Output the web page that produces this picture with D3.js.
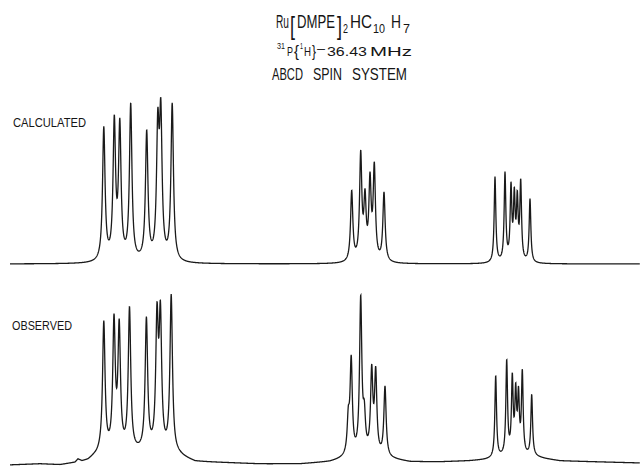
<!DOCTYPE html>
<html>
<head>
<meta charset="utf-8">
<script src="https://cdn.jsdelivr.net/npm/d3@7"></script>
<style>
  body { margin: 0; background: #fff; }
  text { fill: #151515; font-family: "Liberation Sans", Arial, sans-serif; }
</style>
</head>
<body>
<div id="chart"></div>
<script>
var width = 640;
var height = 466;

// line positions (channel units), peak heights (% of tallest), half widths
var calcPos = [103.8, 114.3, 119.8, 130.7, 146.7, 157.8, 160.8, 172.2,
	351.7, 360.7, 365, 370, 374.3, 384,
	495, 505, 511, 514.3, 517.3, 520.7, 530];
var calcHeight = [82, 89, 87, 96, 80, 93, 99, 96,
	44, 68, 45, 55, 61, 43,
	52, 55, 49, 46, 44, 51, 39];
var calcWidth = [1.5, 1.5, 1.5, 1.5, 1.5, 1.5, 1.5, 1.5,
	1.35, 1.35, 1.35, 1.35, 1.35, 1.35,
	1.0, 1.0, 1.0, 1.0, 1.0, 1.0, 1.0];

var obsPos = [103.8, 114, 119.2, 129.5, 146.4, 157, 160.4, 171.2,
	348.3, 351.2, 360.7, 364.3, 371.7, 375.7, 385,
	495.7, 506.7, 512.3, 515.7, 518.5, 522.3, 531.7];
var obsHeight = [79, 83, 80, 87, 81, 90, 91, 95,
	31, 61, 96, 34, 55, 54, 43,
	49, 58, 50, 44, 42, 52, 37];
var obsWidth = [1.5, 1.5, 1.5, 1.5, 1.5, 1.5, 1.5, 1.5,
	1.35, 1.35, 1.35, 1.35, 1.35, 1.35, 1.35,
	1.0, 1.0, 1.0, 1.0, 1.0, 1.0, 1.0];

// observed baseline drift (channel, % offset)
var obsBaseX = [10, 40, 60, 75, 78, 82, 88, 93, 100, 140, 178, 186, 195, 230, 260,
	300, 330, 345, 370, 395, 410, 440, 470, 485, 510, 535, 545, 560, 600, 640];
var obsBaseY = [-0.6, 0, -0.6, 0.6, 2.4, 1.2, 1.8, 3.5, 5.3, 5.9, 4.7, 3, 1.2, 0.6, 0,
	0, 1.2, 3, 4, 2.4, 1.2, 1.2, 1.8, 2.4, 4, 4, 3, 1.8, 1.2, 0.6];

var svg = d3
	.select("#chart")
	.append("svg")
	.attr("width", width)
	.attr("height", height);

var x = d3.scaleLinear().domain([0, 640]).range([0, 640]);
var yCalc = d3.scaleLinear().domain([0, 100]).range([264, 96]);
var yObs = d3.scaleLinear().domain([0, 100]).range([464, 294]);
var baseObs = d3.scaleLinear().domain(obsBaseX).range(obsBaseY).clamp(true);

function lorentz(d, w) {
	return 1 / (1 + (d / w) * (d / w));
}

// amplitudes so that the summed curve tops out at the read heights
function amplitudes(pos, hts, wid) {
	var a = hts.slice();
	for (var k = 0; k < 30; k++) {
		a = hts.map(function (h, i) {
			var s = 0;
			pos.forEach(function (p, j) {
				if (j != i) s += a[j] * lorentz(pos[i] - p, wid[j]);
			});
			return Math.max(0, h - s);
		});
	}
	return a;
}

function spectrum(pos, hts, wid, base) {
	var a = amplitudes(pos, hts, wid);
	var pts = [];
	for (var c = 10; c <= 640; c += 0.2) {
		var v = base ? base(c) : 0;
		pos.forEach(function (p, j) {
			v += a[j] * lorentz(c - p, wid[j]);
		});
		pts.push([c, v]);
	}
	return pts;
}

var calcLine = d3.line().x((d) => x(d[0])).y((d) => yCalc(d[1]));
var obsLine = d3.line().x((d) => x(d[0])).y((d) => yObs(d[1]));

svg.append("path")
	.attr("d", calcLine(spectrum(calcPos, calcHeight, calcWidth, null)))
	.attr("fill", "none")
	.attr("stroke", "#1a1a1a")
	.attr("stroke-width", 1.3);

svg.append("path")
	.attr("d", obsLine(spectrum(obsPos, obsHeight, obsWidth, baseObs)))
	.attr("fill", "none")
	.attr("stroke", "#1a1a1a")
	.attr("stroke-width", 1.3);

// narrow lettering: each piece squeezed horizontally to the width it has in the scan
function piece(txt, x0, y0, size, w) {
	var g = svg.append("g");
	var t = g.append("text").attr("font-size", size).text(txt);
	var nat = t.node().getComputedTextLength();
	g.attr("transform", `translate(${x0},${y0}) scale(${w / nat},1)`);
	return t;
}

// Ru[DMPE]2HC10H7
piece("Ru", 276, 28, 18, 13);
piece("[", 290, 35, 26, 5);
piece("DMPE", 297, 28, 18, 38);
piece("]", 337, 35, 26, 5);
piece("2", 343, 33, 12, 5);
piece("HC", 350, 28, 18, 22);
piece("10", 373, 33, 12, 12);
piece("H", 391, 28, 18, 10);
piece("7", 403, 33, 12, 7);

// 31P{1H} - 36.43 MHz
piece("31", 277, 49, 9, 8);
piece("P", 287, 56, 13, 6);
piece("{", 294, 57, 16, 5);
piece("1", 300, 49, 9, 3);
piece("H", 304, 56, 13, 7);
piece("}", 312, 57, 16, 4);
piece("–", 317, 53, 13, 8);
piece("36.43", 327, 56, 13, 40);
piece("MHz", 370, 56, 13, 42);

piece("ABCD", 272, 80, 16, 31);
piece("SPIN", 313, 80, 16, 29);
piece("SYSTEM", 352, 80, 16, 55);

piece("CALCULATED", 13, 127, 12.5, 73);
piece("OBSERVED", 12, 330, 12.5, 60);
</script>
</body>
</html>
